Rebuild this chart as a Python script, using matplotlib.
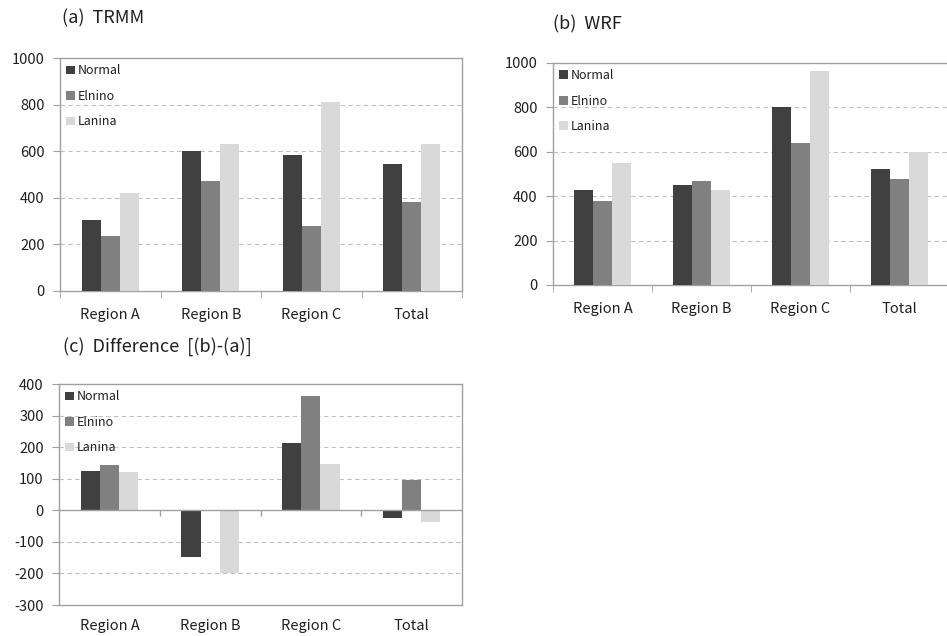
import matplotlib
matplotlib.use("Agg")
import matplotlib.pyplot as plt
import numpy as np

plt.rcParams['font.family'] = ['Noto Sans CJK KR', 'DejaVu Sans']

categories = ['Region A', 'Region B', 'Region C', 'Total']
series = ['Normal', 'Elnino', 'Lanina']
colors = ['#404040', '#808080', '#d9d9d9']

trmm = {
    'Normal': [305, 600, 585, 545],
    'Elnino': [235, 473, 278, 382],
    'Lanina': [420, 630, 810, 633],
}
wrf = {
    'Normal': [430, 452, 800, 523],
    'Elnino': [380, 470, 638, 478],
    'Lanina': [548, 430, 962, 598],
}
diff = {
    'Normal': [125, -148, 213, -23],
    'Elnino': [145, -3, 362, 95],
    'Lanina': [122, -200, 148, -36],
}

txt = '#202020'
edge = '#a0a0a0'
grid_c = '#c0c0c0'
width = 0.19


def draw(ax, data, ylim, yticks, zero_inside=False):
    x = np.arange(len(categories))
    for i, s in enumerate(series):
        ax.bar(x + (i - 1) * width, data[s], width, color=colors[i], label=s, zorder=3)
    ax.set_xlim(-0.5, len(categories) - 0.5)
    ax.set_ylim(*ylim)
    ax.set_yticks(yticks)
    ax.set_yticklabels([str(t) for t in yticks], fontsize=10.5, color=txt)
    ax.set_xticks(x)
    ax.set_xticklabels(categories, fontsize=10.5, color=txt)
    for t in yticks[1:-1]:
        if t != 0:
            ax.axhline(t, color=grid_c, lw=0.8, ls=(0, (4, 3)), zorder=1)
    for sp in ax.spines.values():
        sp.set_color(edge)
        sp.set_linewidth(1.0)
    ax.tick_params(axis='y', length=5, color=edge, pad=6)
    bounds = np.arange(-0.5, len(categories), 1.0)
    if zero_inside:
        ax.tick_params(axis='x', length=0, pad=10)
        ax.axhline(0, color=edge, lw=1.0, zorder=4)
        span = ylim[1] - ylim[0]
        ax.vlines(bounds[1:-1], -0.025 * span, 0, color=edge, lw=1.0, zorder=4)
    else:
        ax.set_xticks(bounds, minor=True)
        ax.tick_params(axis='x', which='major', length=0, pad=12)
        ax.tick_params(axis='x', which='minor', length=5, color=edge)
    leg = ax.legend(loc='upper left', frameon=False, fontsize=9,
                    handlelength=0.7, handleheight=0.7, handletextpad=0.2,
                    labelspacing=1.0, borderaxespad=0.3, borderpad=0.2)
    for t in leg.get_texts():
        t.set_color(txt)


fig = plt.figure(figsize=(9.47, 6.36), dpi=100)

ax1 = fig.add_axes([0.0634, 0.5425, 0.4245, 0.3663])
draw(ax1, trmm, (0, 1000), [0, 200, 400, 600, 800, 1000])
fig.text(0.065, 0.971, '(a)  TRMM', fontsize=13, color=txt, va='center')

ax2 = fig.add_axes([0.5839, 0.5519, 0.4182, 0.3491])
draw(ax2, wrf, (0, 1000), [0, 200, 400, 600, 800, 1000])
fig.text(0.584, 0.962, '(b)  WRF', fontsize=13, color=txt, va='center')

ax3 = fig.add_axes([0.0623, 0.0487, 0.4256, 0.3475])
draw(ax3, diff, (-300, 400), [-300, -200, -100, 0, 100, 200, 300, 400], zero_inside=True)
fig.text(0.066, 0.4555, '(c)  Difference  [(b)-(a)]', fontsize=13, color=txt, va='center')

fig.savefig('out.png', dpi=100)
